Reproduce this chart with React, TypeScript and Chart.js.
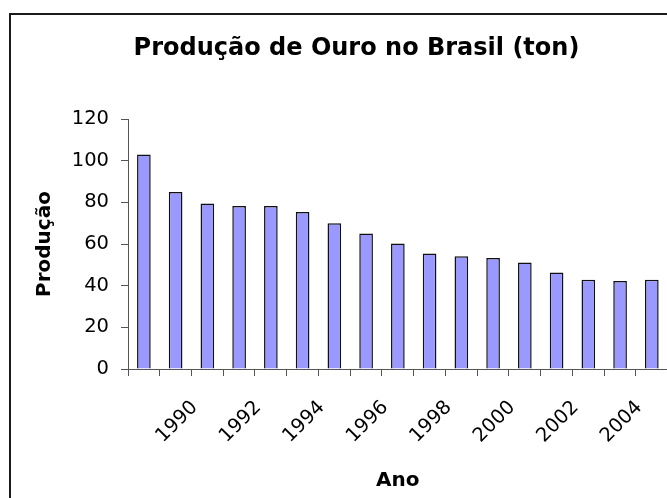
import React, { useEffect, useRef } from 'react';
import { Chart, registerables } from 'chart.js';

Chart.register(...registerables);

const chartTitle = 'Produção de Ouro no Brasil (ton)';
const xAxisTitle = 'Ano';
const yAxisTitle = 'Produção';

const years = [1989, 1990, 1991, 1992, 1993, 1994, 1995, 1996, 1997, 1998, 1999, 2000, 2001, 2002, 2003, 2004, 2005];
const production = [103, 85, 79.4, 78.2, 78.2, 75.4, 70, 65, 60.2, 55.4, 54.1, 53.3, 51.1, 46.3, 42.9, 42.3, 42.9];

const yMin = 0;
const yMax = 120;
const yStep = 20;

const FONT = '"DejaVu Sans", Verdana, sans-serif';

const titlePlugin = {
  id: 'customTitle',
  afterDraw(chart: any) {
    const ctx = chart.ctx;
    ctx.save();
    ctx.font = `bold 24px ${FONT}`;
    ctx.fillStyle = '#000';
    ctx.textAlign = 'center';
    ctx.textBaseline = 'alphabetic';
    ctx.fillText(chartTitle, 356.5, 54.5);
    ctx.restore();
  },
};

export default function App() {
  const ref = useRef<HTMLCanvasElement | null>(null);

  useEffect(() => {
    if (!ref.current) return;
    const chart = new Chart(ref.current, {
      type: 'bar',
      data: {
        labels: years.map(String),
        datasets: [
          {
            data: production,
            backgroundColor: '#9999FF',
            borderColor: '#111111',
            borderWidth: 1.5,
            barPercentage: 0.43,
            categoryPercentage: 1,
          },
        ],
      },
      options: {
        animation: false,
        responsive: false,
        devicePixelRatio: 1,
        layout: { padding: { top: 119, left: 0, right: 32.3, bottom: 0 } },
        plugins: {
          legend: { display: false },
          tooltip: { enabled: false },
          title: { display: false },
        },
        scales: {
          x: {
            type: 'category',
            offset: true,
            grid: {
              display: true,
              drawOnChartArea: false,
              drawTicks: true,
              tickLength: 7,
              color: '#555',
              offset: true,
            },
            border: { display: true, color: '#555', width: 1 },
            ticks: {
              autoSkip: false,
              minRotation: 45,
              maxRotation: 45,
              padding: 20,
              labelOffset: 19,
              color: '#000',
              font: { family: FONT, size: 19.5 },
              callback: (_v: any, i: number) => (years[i] % 2 === 0 ? String(years[i]) : ''),
            },
            title: {
              display: true,
              text: xAxisTitle,
              color: '#000',
              font: { family: FONT, size: 20, weight: 'bold' },
              padding: { top: 0, bottom: 5 },
            },
            afterFit: (scale: any) => {
              scale.height = 129;
            },
          },
          y: {
            min: yMin,
            max: yMax,
            grid: {
              display: true,
              drawOnChartArea: false,
              drawTicks: true,
              tickLength: 7,
              color: '#555',
            },
            border: { display: true, color: '#555', width: 1 },
            ticks: {
              stepSize: yStep,
              padding: 12,
              color: '#000',
              font: { family: FONT, size: 19.5 },
            },
            title: {
              display: true,
              text: yAxisTitle,
              color: '#000',
              font: { family: FONT, size: 20, weight: 'bold' },
              padding: { top: 33, bottom: 0 },
            },
            afterFit: (scale: any) => {
              scale.width = 128;
            },
          },
        },
      },
      plugins: [titlePlugin],
    });
    return () => chart.destroy();
  }, []);

  return (
    <div style={{ position: 'absolute', left: 0, top: 0, width: 667, height: 498, overflow: 'hidden', background: '#fff' }}>
      <div
        style={{
          position: 'absolute',
          left: 9,
          top: 12.5,
          width: 1000,
          height: 1000,
          border: '2px solid #1a1a1a',
          boxSizing: 'border-box',
        }}
      />
      <canvas ref={ref} width={700} height={498} style={{ position: 'absolute', left: 0, top: 0, display: 'block' }} />
    </div>
  );
}
